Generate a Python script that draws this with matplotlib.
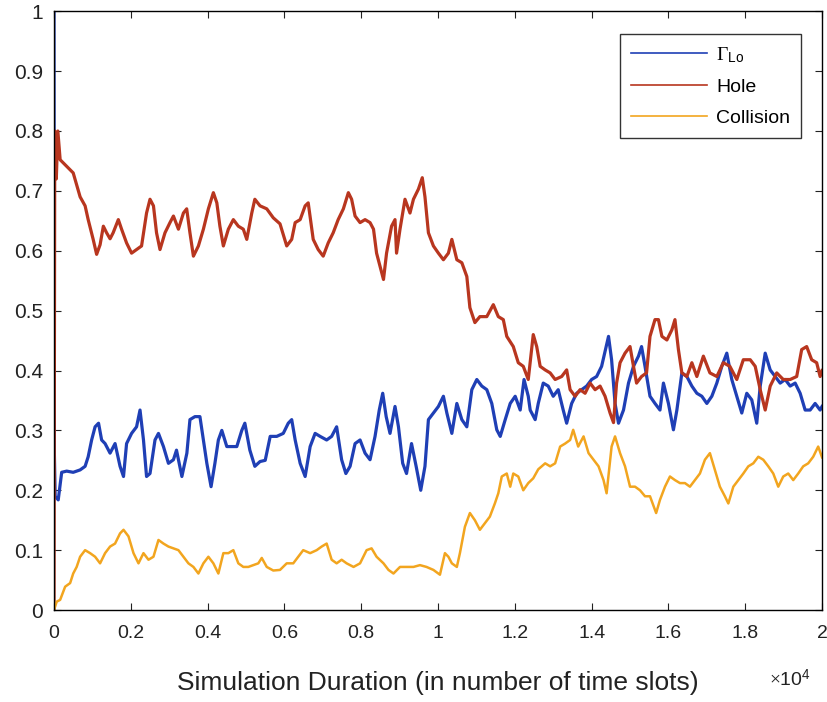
import matplotlib
matplotlib.use('Agg')
import matplotlib.pyplot as plt
import numpy as np

plt.rcParams['font.family'] = ['Liberation Sans', 'DejaVu Sans']
plt.rcParams['mathtext.fontset'] = 'custom'
plt.rcParams['mathtext.rm'] = 'Liberation Serif'
plt.rcParams['mathtext.it'] = 'Liberation Serif'
plt.rcParams['mathtext.sf'] = 'Liberation Sans'

# time slots and the three ratios
lo_t = [0, 10, 30, 110, 200, 330, 500, 680, 810, 890, 980, 1070, 1160, 1240, 1330, 1460, 1590, 1720, 1810,
        1890, 2020, 2150, 2240, 2330, 2410, 2500, 2630, 2720, 2850, 2980, 3110, 3190, 3330, 3460, 3540,
        3670, 3800, 3890, 3980, 4090, 4190, 4280, 4370, 4500, 4630, 4760, 4890, 4970, 5100, 5230, 5365,
        5500, 5630, 5800, 5970, 6100, 6190, 6280, 6410, 6540, 6670, 6800, 6930, 7100, 7230, 7360, 7490,
        7600, 7710, 7840, 7970, 8100, 8230, 8360, 8470, 8560, 8650, 8750, 8880, 8970, 9080, 9180, 9310,
        9430, 9550, 9660, 9750, 9880, 10010, 10140, 10230, 10360, 10490, 10620, 10750, 10880, 11010,
        11140, 11270, 11400, 11530, 11620, 11750, 11880, 12010, 12140, 12240, 12350, 12400, 12530, 12610,
        12740, 12870, 13000, 13130, 13260, 13350, 13480, 13610, 13740, 13870, 14000, 14130, 14260, 14380,
        14440, 14520, 14610, 14700, 14830, 14960, 15090, 15220, 15300, 15390, 15520, 15650, 15780, 15870,
        16000, 16130, 16220, 16350, 16480, 16610, 16740, 16870, 17000, 17130, 17260, 17390, 17520, 17650,
        17780, 17910, 18040, 18170, 18300, 18390, 18520, 18650, 18780, 18910, 19040, 19170, 19300, 19430,
        19560, 19690, 19820, 19950, 20000]
lo_v = [1.0, 0.26, 0.19, 0.184, 0.23, 0.232, 0.23, 0.234, 0.24, 0.256, 0.284, 0.306, 0.312, 0.284, 0.278,
        0.262, 0.278, 0.24, 0.223, 0.278, 0.295, 0.306, 0.334, 0.284, 0.223, 0.228, 0.284, 0.295, 0.273,
        0.245, 0.251, 0.267, 0.223, 0.262, 0.318, 0.323, 0.323, 0.284, 0.245, 0.206, 0.245, 0.284, 0.3,
        0.273, 0.273, 0.273, 0.3, 0.312, 0.267, 0.24, 0.248, 0.25, 0.29, 0.29, 0.295, 0.312, 0.318, 0.284,
        0.245, 0.223, 0.273, 0.295, 0.29, 0.284, 0.29, 0.306, 0.251, 0.228, 0.24, 0.278, 0.284, 0.262,
        0.251, 0.29, 0.334, 0.362, 0.323, 0.295, 0.34, 0.306, 0.245, 0.228, 0.278, 0.24, 0.2, 0.24, 0.318,
        0.329, 0.34, 0.357, 0.329, 0.295, 0.345, 0.318, 0.306, 0.368, 0.385, 0.374, 0.368, 0.345, 0.301,
        0.29, 0.318, 0.345, 0.357, 0.334, 0.385, 0.357, 0.334, 0.318, 0.345, 0.379, 0.374, 0.357, 0.368,
        0.334, 0.312, 0.345, 0.362, 0.368, 0.374, 0.385, 0.39, 0.407, 0.44, 0.457, 0.418, 0.345, 0.312,
        0.334, 0.379, 0.407, 0.424, 0.44, 0.407, 0.357, 0.345, 0.334, 0.379, 0.345, 0.301, 0.334, 0.396,
        0.39, 0.374, 0.362, 0.357, 0.345, 0.357, 0.379, 0.407, 0.429, 0.385, 0.357, 0.329, 0.362, 0.351,
        0.312, 0.374, 0.429, 0.401, 0.39, 0.379, 0.385, 0.374, 0.379, 0.362, 0.334, 0.334, 0.345, 0.334,
        0.34]

hole_t = [0, 20, 60, 100, 160, 330, 500, 680, 810, 890, 1020, 1110, 1200, 1285, 1370, 1460, 1540, 1675,
          1760, 1890, 2020, 2150, 2280, 2410, 2500, 2590, 2670, 2760, 2890, 3020, 3110, 3240, 3370, 3455,
          3540, 3630, 3760, 3890, 4020, 4150, 4240, 4320, 4410, 4540, 4670, 4800, 4930, 5020, 5150, 5230,
          5365, 5540, 5710, 5885, 6060, 6190, 6280, 6410, 6540, 6620, 6750, 6880, 7010, 7140, 7270, 7400,
          7535, 7665, 7750, 7840, 7970, 8100, 8230, 8320, 8400, 8490, 8580, 8660, 8790, 8880, 8920, 9010,
          9140, 9270, 9360, 9490, 9590, 9660, 9750, 9880, 10010, 10140, 10270, 10360, 10490, 10620, 10750,
          10830, 10960, 11090, 11270, 11440, 11570, 11700, 11790, 11960, 12090, 12220, 12350, 12480, 12570,
          12660, 12790, 12920, 13050, 13220, 13350, 13440, 13570, 13700, 13830, 13960, 14090, 14220, 14350,
          14480, 14570, 14650, 14740, 14870, 15000, 15090, 15170, 15300, 15430, 15520, 15650, 15740, 15830,
          15960, 16090, 16170, 16260, 16350, 16480, 16610, 16740, 16910, 17080, 17260, 17430, 17600, 17780,
          17950, 18130, 18260, 18390, 18520, 18650, 18820, 18990, 19170, 19340, 19470, 19600, 19730, 19860,
          19950, 20000]
hole_v = [0.0, 0.80, 0.72, 0.80, 0.752, 0.741, 0.73, 0.69, 0.675, 0.652, 0.619, 0.594, 0.61, 0.641, 0.63,
          0.62, 0.63, 0.652, 0.636, 0.613, 0.596, 0.602, 0.608, 0.663, 0.686, 0.675, 0.63, 0.602, 0.63,
          0.647, 0.658, 0.636, 0.663, 0.67, 0.63, 0.591, 0.608, 0.636, 0.67, 0.697, 0.68, 0.641, 0.608,
          0.636, 0.652, 0.641, 0.636, 0.619, 0.663, 0.686, 0.675, 0.67, 0.655, 0.645, 0.608, 0.619, 0.647,
          0.652, 0.675, 0.68, 0.619, 0.602, 0.591, 0.613, 0.63, 0.652, 0.67, 0.697, 0.686, 0.658, 0.647,
          0.652, 0.647, 0.636, 0.596, 0.574, 0.552, 0.596, 0.641, 0.652, 0.596, 0.636, 0.686, 0.663, 0.686,
          0.703, 0.722, 0.69, 0.63, 0.608, 0.596, 0.585, 0.596, 0.619, 0.585, 0.58, 0.557, 0.505, 0.48,
          0.49, 0.49, 0.51, 0.49, 0.485, 0.457, 0.44, 0.413, 0.407, 0.385, 0.46, 0.44, 0.407, 0.401, 0.396,
          0.385, 0.39, 0.401, 0.368, 0.357, 0.368, 0.362, 0.379, 0.368, 0.374, 0.357, 0.329, 0.313, 0.379,
          0.413, 0.429, 0.44, 0.407, 0.379, 0.39, 0.396, 0.457, 0.485, 0.485, 0.457, 0.451, 0.468, 0.485,
          0.435, 0.396, 0.39, 0.413, 0.39, 0.424, 0.396, 0.39, 0.413, 0.407, 0.385, 0.418, 0.418, 0.407,
          0.368, 0.334, 0.374, 0.396, 0.385, 0.385, 0.39, 0.435, 0.44, 0.418, 0.413, 0.39, 0.40]

coll_t = [0, 70, 160, 290, 420, 500, 590, 680, 810, 940, 1070, 1200, 1330, 1460, 1590, 1720, 1810, 1940,
          2070, 2200, 2330, 2460, 2590, 2720, 2850, 2980, 3110, 3240, 3370, 3500, 3630, 3760, 3890, 4020,
          4150, 4280, 4410, 4540, 4670, 4800, 4930, 5060, 5190, 5320, 5410, 5540, 5710, 5885, 6060, 6230,
          6360, 6490, 6670, 6840, 6970, 7100, 7230, 7360, 7490, 7620, 7800, 7970, 8140, 8270, 8400, 8580,
          8710, 8840, 9010, 9180, 9360, 9530, 9700, 9880, 10050, 10180, 10270, 10360, 10490, 10570, 10700,
          10830, 10960, 11090, 11220, 11350, 11480, 11570, 11660, 11790, 11880, 11960, 12090, 12220, 12350,
          12480, 12610, 12790, 12920, 13050, 13180, 13310, 13440, 13520, 13650, 13790, 13920, 14050, 14180,
          14310, 14390, 14520, 14610, 14740, 14870, 15000, 15130, 15260, 15390, 15520, 15680, 15780, 15910,
          16040, 16170, 16300, 16430, 16560, 16690, 16820, 16950, 17080, 17210, 17340, 17470, 17560, 17690,
          17820, 17950, 18080, 18210, 18340, 18470, 18600, 18730, 18860, 18990, 19120, 19250, 19380, 19510,
          19640, 19770, 19900, 20000]
coll_v = [0.0, 0.014, 0.017, 0.039, 0.045, 0.061, 0.072, 0.089, 0.1, 0.095, 0.089, 0.078, 0.095, 0.106,
          0.111, 0.128, 0.134, 0.123, 0.095, 0.078, 0.095, 0.084, 0.089, 0.117, 0.111, 0.106, 0.103, 0.1,
          0.089, 0.078, 0.072, 0.061, 0.078, 0.089, 0.078, 0.061, 0.095, 0.095, 0.1, 0.078, 0.072, 0.072,
          0.075, 0.078, 0.087, 0.072, 0.066, 0.067, 0.078, 0.078, 0.089, 0.1, 0.095, 0.1, 0.106, 0.111,
          0.084, 0.078, 0.084, 0.078, 0.072, 0.078, 0.1, 0.103, 0.089, 0.078, 0.067, 0.061, 0.072, 0.072,
          0.072, 0.075, 0.072, 0.067, 0.059, 0.095, 0.089, 0.078, 0.072, 0.095, 0.139, 0.162, 0.15, 0.134,
          0.145, 0.156, 0.178, 0.195, 0.223, 0.228, 0.206, 0.228, 0.223, 0.2, 0.212, 0.22, 0.235, 0.245,
          0.24, 0.245, 0.273, 0.278, 0.284, 0.301, 0.273, 0.29, 0.262, 0.251, 0.24, 0.217, 0.195, 0.273,
          0.29, 0.262, 0.24, 0.206, 0.206, 0.2, 0.19, 0.19, 0.162, 0.184, 0.206, 0.223, 0.217, 0.212, 0.212,
          0.206, 0.217, 0.228, 0.251, 0.262, 0.234, 0.206, 0.19, 0.178, 0.206, 0.217, 0.228, 0.24, 0.245,
          0.256, 0.251, 0.24, 0.228, 0.206, 0.223, 0.228, 0.217, 0.228, 0.24, 0.245, 0.256, 0.273, 0.255]

fig = plt.figure(figsize=(8.27, 7.02), dpi=100)
ax = fig.add_axes([0.0653, 0.131, 0.9287, 0.853])

ax.plot(lo_t, lo_v, color='#1f3fb5', lw=2.3, label=r'$\Gamma_{\mathsf{Lo}}$')
ax.plot(hole_t, hole_v, color='#b8361f', lw=2.3, label='Hole')
ax.plot(coll_t, coll_v, color='#f2a51f', lw=1.8, label='Collision')

ax.set_xlim(0, 20000)
ax.set_ylim(0, 1)
ax.set_xticks(np.arange(0, 20001, 2000))
ax.set_xticklabels(['0', '0.2', '0.4', '0.6', '0.8', '1', '1.2', '1.4', '1.6', '1.8', '2'], fontsize=14)
ax.set_yticks(np.arange(0, 1.01, 0.1))
ax.set_yticklabels(['0', '0.1', '0.2', '0.3', '0.4', '0.5', '0.6', '0.7', '0.8', '0.9', '1'], fontsize=15)
ax.tick_params(direction='in', top=True, right=True, length=5, width=0.8, colors='#222222')
ax.tick_params(axis='x', pad=11)
ax.tick_params(axis='y', pad=8)
for s in ax.spines.values():
    s.set_linewidth(1.0)

ax.set_xlabel('Simulation Duration (in number of time slots)', fontsize=19, labelpad=21, color='#222222')
fig.text(0.930, 0.022, r'$\times$' + r'$\mathsf{10}^{\mathsf{4}}$', fontsize=14, color='#222222')

leg = ax.legend(loc='upper right', bbox_to_anchor=(0.9727, 0.9615), borderaxespad=0, fontsize=14,
                frameon=True, fancybox=False, edgecolor='black', handlelength=3.9, handletextpad=0.5,
                borderpad=0.55, labelspacing=0.7)
leg.get_frame().set_linewidth(1.0)
for h in leg.get_lines():
    h.set_linewidth(1.2)

fig.savefig('out.png', dpi=100)
